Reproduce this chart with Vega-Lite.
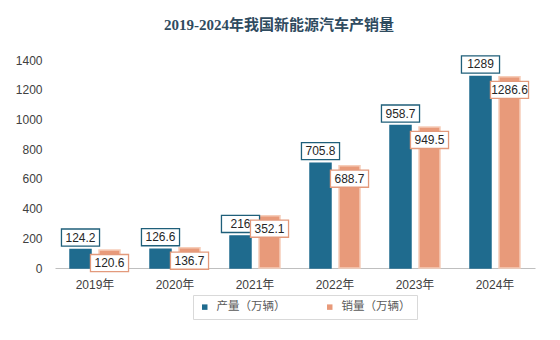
{
  "$schema": "https://vega.github.io/schema/vega-lite/v6.json",
  "width": 480,
  "height": 208,
  "autosize": {"type": "none"},
  "padding": {"left": 55, "top": 60, "right": 25, "bottom": 72},
  "background": "white",
  "config": {"view": {"stroke": null}, "font": "Liberation Sans, Noto Sans CJK SC"},
  "title": {"text": "2019-2024年我国新能源汽车产销量", "fontSize": 15, "font": "Liberation Serif, Noto Sans CJK SC", "fontWeight": "bold", "color": "#2f4b5f", "anchor": "middle", "dx": -16, "offset": 20},
  "data": {"values": [
    {"year": "2019年", "series": "产量（万辆）", "value": 124.2},
    {"year": "2019年", "series": "销量（万辆）", "value": 120.6},
    {"year": "2020年", "series": "产量（万辆）", "value": 126.6},
    {"year": "2020年", "series": "销量（万辆）", "value": 136.7},
    {"year": "2021年", "series": "产量（万辆）", "value": 216},
    {"year": "2021年", "series": "销量（万辆）", "value": 352.1},
    {"year": "2022年", "series": "产量（万辆）", "value": 705.8},
    {"year": "2022年", "series": "销量（万辆）", "value": 688.7},
    {"year": "2023年", "series": "产量（万辆）", "value": 958.7},
    {"year": "2023年", "series": "销量（万辆）", "value": 949.5},
    {"year": "2024年", "series": "产量（万辆）", "value": 1289},
    {"year": "2024年", "series": "销量（万辆）", "value": 1286.6}
  ]},
  "encoding": {
    "x": {"field": "year", "type": "nominal", "sort": null, "title": null,
      "scale": {"paddingInner": 0.375, "paddingOuter": 0.1875},
      "axis": {"labelAngle": 0, "labelFontSize": 12, "labelColor": "#404040", "ticks": false, "domainColor": "#bfbfbf", "domainWidth": 1, "labelPadding": 11}},
    "xOffset": {"field": "series", "type": "nominal", "sort": ["产量（万辆）", "销量（万辆）"], "scale": {"paddingInner": 0.276}},
    "y": {"field": "value", "type": "quantitative", "title": null,
      "scale": {"domain": [0, 1400], "nice": false},
      "axis": {"values": [0, 200, 400, 600, 800, 1000, 1200, 1400], "format": "d", "grid": false, "domain": false, "ticks": false, "labelPadding": 13, "labelFontSize": 12, "labelColor": "#404040"}}
  },
  "layer": [
    {
      "mark": {"type": "bar", "strokeWidth": 1.5},
      "encoding": {
        "color": {"field": "series", "type": "nominal", "sort": ["产量（万辆）", "销量（万辆）"],
          "scale": {"range": ["#1f6b8e", "#e89a7a"]},
          "legend": {"orient": "none", "legendX": 138, "legendY": 235, "direction": "horizontal", "title": null, "symbolType": "square", "symbolSize": 30, "labelFontSize": 11.5, "labelColor": "#595959", "strokeColor": "#d9d9d9", "padding": 6, "columnPadding": 38, "symbolOpacity": 1, "labelOffset": 6}},
        "stroke": {"field": "series", "type": "nominal", "sort": ["产量（万辆）", "销量（万辆）"], "scale": {"range": ["#1f6b8e", "#f6cdb9"]}, "legend": null}
      }
    },
    {
      "transform": [{"filter": "datum.series === '产量（万辆）'"}],
      "mark": {"type": "point", "shape": "M-1,-0.45L1,-0.45L1,0.45L-1,0.45Z", "size": 1450, "filled": true, "fill": "white", "stroke": "#1f5f7a", "strokeWidth": 1.3, "opacity": 1, "yOffset": -12},
      "encoding": {}
    },
    {
      "transform": [{"filter": "datum.series === '产量（万辆）'"}],
      "mark": {"type": "text", "fontSize": 12, "color": "#262626", "yOffset": -12, "baseline": "middle"},
      "encoding": {"text": {"field": "value", "type": "quantitative"}}
    },
    {
      "transform": [{"filter": "datum.series === '销量（万辆）'"}],
      "mark": {"type": "point", "shape": "M-1,-0.45L1,-0.45L1,0.45L-1,0.45Z", "size": 1450, "filled": true, "fill": "white", "stroke": "#e39a7c", "strokeWidth": 1.3, "opacity": 1, "yOffset": 13},
      "encoding": {}
    },
    {
      "transform": [{"filter": "datum.series === '销量（万辆）'"}],
      "mark": {"type": "text", "fontSize": 12, "color": "#262626", "yOffset": 13, "baseline": "middle"},
      "encoding": {"text": {"field": "value", "type": "quantitative"}}
    }
  ]
}
